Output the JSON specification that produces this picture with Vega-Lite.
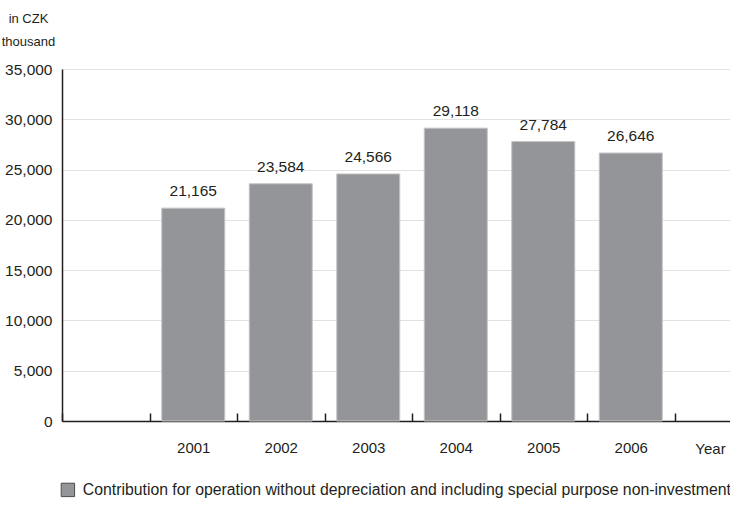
{
  "$schema": "https://vega.github.io/schema/vega-lite/v6.json",
  "autosize": {"type": "none"},
  "padding": {"left": 62, "top": 69, "right": 0, "bottom": 108},
  "width": 668,
  "height": 352,
  "background": "white",
  "config": {
    "view": {"stroke": null},
    "font": "Liberation Sans, Arial, sans-serif",
    "axis": {"labelFont": "Liberation Sans, Arial, sans-serif", "titleFont": "Liberation Sans, Arial, sans-serif"},
    "legend": {"labelFont": "Liberation Sans, Arial, sans-serif"}
  },
  "data": {
    "values": [
      {"year": "2001", "value": 21165},
      {"year": "2002", "value": 23584},
      {"year": "2003", "value": 24566},
      {"year": "2004", "value": 29118},
      {"year": "2005", "value": 27784},
      {"year": "2006", "value": 26646}
    ]
  },
  "encoding": {
    "x": {
      "field": "year",
      "type": "nominal",
      "scale": {"domain": ["", "2001", "2002", "2003", "2004", "2005", "2006"], "paddingInner": 0, "paddingOuter": 0.317, "align": 0},
      "axis": {
        "title": "Year",
        "titleX": 648,
        "titleY": 32,
        "titleAlign": "center",
        "titleBaseline": "alphabetic",
        "titleFontSize": 15,
        "titleFontWeight": "normal",
        "titleColor": "#231f20",
        "labelAngle": 0,
        "labelFontSize": 15,
        "labelColor": "#231f20",
        "labelPadding": 27,
        "tickBand": "extent",
        "tickSize": -8,
        "tickColor": "#231f20",
        "tickWidth": 1.5,
        "domainColor": "#231f20",
        "domainWidth": 1.5,
        "grid": false
      }
    },
    "y": {
      "field": "value",
      "type": "quantitative",
      "scale": {"domain": [0, 35000], "nice": false},
      "axis": {
        "values": [0, 5000, 10000, 15000, 20000, 25000, 30000, 35000],
        "format": ",d",
        "title": ["in CZK", "thousand"],
        "titleAngle": 0,
        "titleX": -34,
        "titleY": -47,
        "titleAlign": "center",
        "titleBaseline": "alphabetic",
        "titleFontSize": 13,
        "titleFontWeight": "normal",
        "titleColor": "#231f20",
        "titleLineHeight": 23,
        "labelFontSize": 15.5,
        "labelColor": "#231f20",
        "labelPadding": 10,
        "ticks": false,
        "tickSize": 0,
        "domainColor": "#231f20",
        "domainWidth": 1.5,
        "grid": true,
        "gridColor": "#e2e2e2",
        "gridWidth": 1
      }
    }
  },
  "layer": [
    {
      "mark": {"type": "bar", "width": {"band": 0.72}, "stroke": "#c4c4c4", "strokeWidth": 1},
      "encoding": {
        "color": {
          "datum": "Contribution for operation without depreciation and including special purpose non-investment",
          "type": "nominal",
          "scale": {"range": ["#939598"]},
          "legend": {
            "title": null,
            "orient": "none",
            "legendX": -2,
            "legendY": 413,
            "symbolType": "square",
            "symbolSize": 180,
            "symbolStrokeColor": "#4d4d4d",
            "symbolStrokeWidth": 1,
            "symbolFillColor": "#939598",
            "labelFontSize": 15.8,
            "labelColor": "#231f20",
            "labelLimit": 0,
            "labelOffset": 7
          }
        }
      }
    },
    {
      "mark": {"type": "text", "baseline": "alphabetic", "dy": -12, "fontSize": 15.5, "color": "#231f20"},
      "encoding": {
        "text": {"field": "value", "type": "quantitative", "format": ",d"}
      }
    }
  ]
}
